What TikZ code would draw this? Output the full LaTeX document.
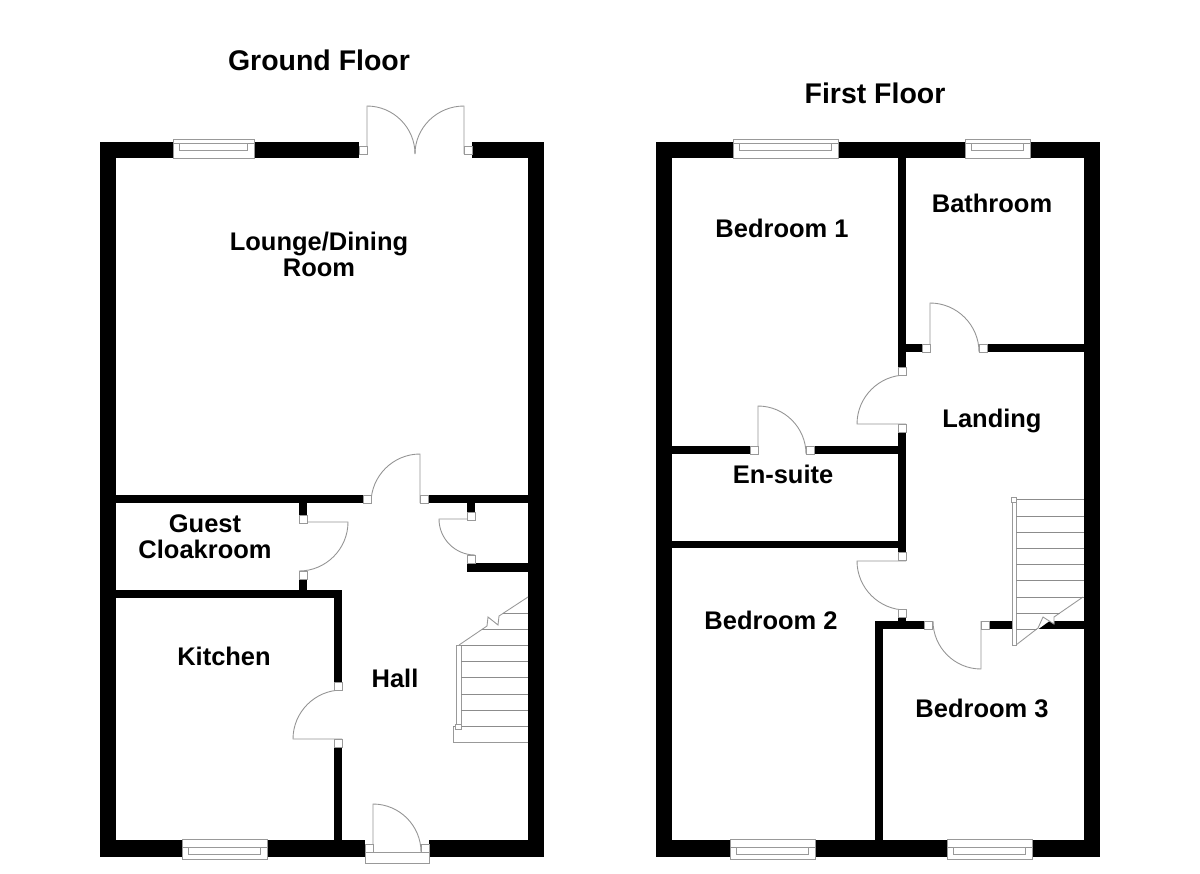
\documentclass[tikz,border=0pt]{standalone}
\usepackage{fontspec}
\setmainfont{Liberation Sans}
\usetikzlibrary{calc}

\tikzset{
    wall/.style={fill=black,draw=none},
    thinline/.style={draw=black!40,line width=0.5pt,fill=white},
    doorline/.style={draw=black!42,line width=0.5pt},
    treadline/.style={draw=black!45,line width=0.5pt},
    roomlabel/.style={font=\fontsize{14.5}{14.8}\selectfont\bfseries,align=center,inner sep=0pt},
    floortitle/.style={font=\fontsize{16.2}{18}\selectfont\bfseries,inner sep=0pt}
}

% hinge, leaf tip, end of swing
\newcommand{\doorswing}[6]{
    \draw[doorline] (#1,#2) -- (#3,#4) .. controls ($(#3,#4)+0.55*(#5,#6)-0.55*(#1,#2)$) and ($(#5,#6)+0.55*(#3,#4)-0.55*(#1,#2)$) .. (#5,#6);
}

\begin{document}
\begin{tikzpicture}[x=0.02cm,y=-0.02cm]
    \useasboundingbox (0,0) rectangle (1200,873);

    % walls
    \foreach \xa/\ya/\xb/\yb in {100/142/116/857,528/142/544/857,100/142/359/158,472/142/544/158,
        100/840/365/857,429/840/544/857,116/495/363/503,428/495/528/503,299/503/307/515,
        467/503/475/512,467/563/528/572,299/579/307/590,116/590/342/598,334/590/342/682,
        334/747/342/841,
        656/142/672/857,1084/142/1100/857,656/142/1100/158,656/840/1100/857,
        898/158/906/367,906/344/922/352,987/344/1084/352,898/432/906/552,672/446/750/454,
        814/446/898/454,672/541/898/548,898/617/906/621,875/621/924/629,989/621/1084/629,
        875/621/883/841}
        \fill[wall] (\xa,\ya) rectangle (\xb,\yb);

    % windows
    \foreach \xa/\xb/\ya/\yb/\yc/\yd in {173/254/139/158/143/150,733/838/139/158/143/150,
        965/1030/139/158/143/150,182/267/839/859/847/854,730/815/839/859/847/854,
        947/1032/839/859/847/854} {
        \draw[thinline] (\xa,\ya) rectangle (\xb,\yb);
        \draw[doorline] (\xa,\yc) -- (\xb,\yc);
        \draw[thinline] ($(\xa,\yc)+(6,0)$) rectangle ($(\xb,\yd)+(-7,0)$);
    }

    % doors
    \doorswing{367}{154}{367}{106}{415}{154}
    \doorswing{464}{154}{464}{106}{415}{154}
    \doorswing{420}{503}{420}{454}{371}{503}
    \doorswing{299}{522}{348}{522}{299}{571}
    \doorswing{475}{519}{439}{519}{475}{555}
    \doorswing{342}{739}{293}{739}{342}{690}
    \doorswing{373}{852}{373}{804}{421}{852}
    \doorswing{906}{424}{857}{424}{906}{375}
    \doorswing{906}{561}{857}{561}{906}{610}
    \doorswing{981}{621}{981}{669}{933}{621}
    \doorswing{930}{352}{930}{303}{979}{352}
    \doorswing{758}{454}{758}{406}{806}{454}
    \foreach \xa/\ya in {359/146,464/146,363/495,420/495,299/515,299/571,467/512,467/555,
        334/682,334/739,365/844,421/844,898/367,898/424,898/552,898/609,924/621,981/621,
        922/344,979/344,750/446,806/446}
        \draw[thinline] (\xa,\ya) rectangle ++(8,8);
    \draw[thinline] (365,852) rectangle (429,863);

    % stairs, ground floor
    \draw[thinline] (528,597) -- (499,616) -- (498,625) -- (488,617) -- (487,626) -- (459,645);
    \draw[thinline] (456,645) rectangle (461,726);
    \draw[thinline] (453,726) -- (453,742) -- (528,742);
    \foreach \xa/\ya in {503/613,482/629,461/645,461/661,461/677,461/694,461/710,453/726}
        \draw[treadline] (\xa,\ya) -- (528,\ya);
    \draw[thinline] (455,724) rectangle (461,729);

    % stairs, first floor
    \draw[thinline,draw=none] (1016,645) -- (1038,628) -- (1043,617) -- (1054,624) -- (1054,617) -- (1084,597) -- (1016,597) -- cycle;
    \draw[thinline] (1016,645) -- (1038,628) -- (1043,617) -- (1054,624) -- (1054,617) -- (1083,597);
    \draw[thinline] (1012,499) rectangle (1016,645);
    \foreach \xb/\ya in {1084/499,1084/516,1084/532,1084/548,1084/564,1084/580,1084/597,1060/613,1037/629}
        \draw[treadline] (1016,\ya) -- (\xb,\ya);
    \draw[thinline] (1011,497) rectangle (1016,502);

    % labels
    \node[floortitle] (ground) at (319,60) {Ground Floor};
    \node[floortitle] (first) at (875,93) {First Floor};
    \begin{scope}[every node/.style={roomlabel}]
    \node (lounge) at (319,254) {Lounge/Dining\\Room};
    \node (cloak) at (205,537) {Guest\\Cloakroom};
    \node (kitchen) at (224,656) {Kitchen};
    \node (hall) at (395,678) {Hall};
    \node (bed1) at (782,228) {Bedroom 1};
    \node (bath) at (992,203) {Bathroom};
    \node (landing) at (992,421) {Landing};
    \node (ensuite) at (783,474) {En-suite};
    \node (bed2) at (771,620) {Bedroom 2};
    \node (bed3) at (982,708) {Bedroom 3};
    \end{scope}
\end{tikzpicture}
\end{document}
